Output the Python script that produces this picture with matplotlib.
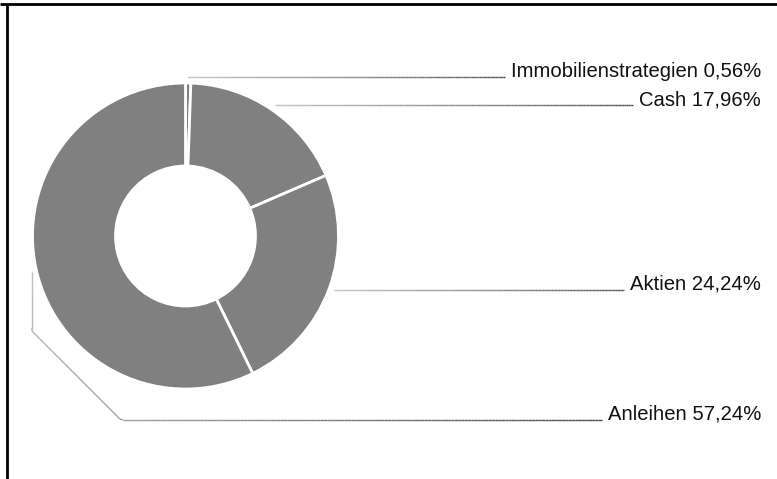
import numpy as np
import matplotlib
matplotlib.use("Agg")
import matplotlib.pyplot as plt
from matplotlib.collections import LineCollection
from matplotlib.colors import to_rgb

categories = ["Immobilienstrategien", "Cash", "Aktien", "Anleihen"]
shares = [0.56, 17.96, 24.24, 57.24]
labels = [f"{c} {v:.2f}%".replace(".", ",") for c, v in zip(categories, shares)]

W, H = 777, 479
CENTER = (185.5, 236.0)
R_OUT, R_IN = 153.0, 70.0
LABEL_X = 761
LABEL_Y = [77, 105, 290, 420]

plt.rcParams["font.family"] = ["Liberation Sans", "DejaVu Sans"]

fig = plt.figure(figsize=(W / 100, H / 100), dpi=100)
ax = fig.add_axes([0, 0, 1, 1])

wedges, _ = ax.pie(
    shares,
    center=CENTER,
    radius=R_OUT,
    startangle=-90,
    counterclock=True,
    colors=["#808080"] * len(shares),
    wedgeprops=dict(width=R_OUT - R_IN, edgecolor="white", linewidth=2),
)
ax.set_xlim(0, W)
ax.set_ylim(H, 0)
ax.axis("off")

# frame: top and left edges only
ax.plot([0, W], [4, 4], color="black", lw=2, solid_capstyle="butt")
ax.plot([7, 7], [4, H], color="black", lw=2, solid_capstyle="butt")

texts = []
for lab, y in zip(labels, LABEL_Y):
    texts.append(ax.text(LABEL_X, y, lab, ha="right", va="baseline",
                         fontsize=14.6, color="#111111"))
fig.canvas.draw()
inv = ax.transData.inverted()


def gradient_line(points, c0="#bdbdbd", c1="#4a4a4a", n=200):
    pts = np.asarray(points, dtype=float)
    seg_len = np.hypot(*np.diff(pts, axis=0).T)
    cum = np.concatenate([[0], np.cumsum(seg_len)])
    s = np.linspace(0, cum[-1], n)
    xs = np.interp(s, cum, pts[:, 0])
    ys = np.interp(s, cum, pts[:, 1])
    segs = np.stack([np.column_stack([xs[:-1], ys[:-1]]),
                     np.column_stack([xs[1:], ys[1:]])], axis=1)
    a, b = np.array(to_rgb(c0)), np.array(to_rgb(c1))
    t = np.linspace(0, 1, n - 1)[:, None]
    lc = LineCollection(segs, colors=a + (b - a) * t, linewidths=1.0)
    ax.add_collection(lc)


for w, txt, y in zip(wedges, texts, LABEL_Y):
    mid = np.deg2rad((w.theta1 + w.theta2) / 2)
    r = R_OUT + 5
    sx = CENTER[0] + r * np.cos(mid)
    sy = CENTER[1] + r * np.sin(mid)
    bb = txt.get_window_extent()
    left = inv.transform((bb.x0, bb.y0))[0] - 6
    if sx < CENTER[0]:
        # elbow around the left side of the ring
        drop = 59
        pts = [(sx, sy), (sx, sy + drop), (sx + (y - sy - drop), y), (left, y)]
    else:
        pts = [(sx, y), (left, y)] if abs(sy - y) < 8 else [(sx, sy), (left, sy)]
    gradient_line(pts)

fig.savefig("out.png", dpi=100)
